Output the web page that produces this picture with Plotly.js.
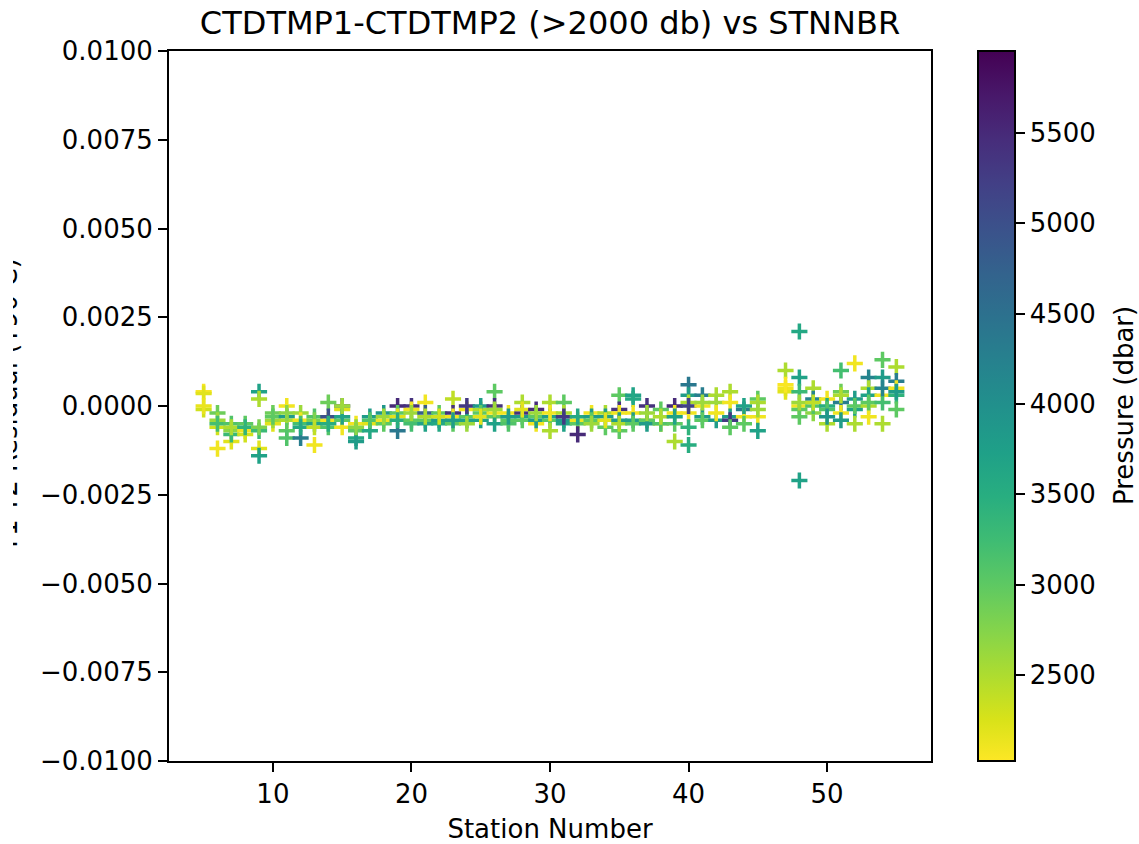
<!DOCTYPE html>
<html>
<head>
<meta charset="utf-8">
<script src="https://cdn.plot.ly/plotly-3.0.1.min.js"></script>
<style>html,body{margin:0;padding:0;background:#fff;}#chart{width:1139px;height:844px;}</style>
</head>
<body>
<div id="chart"></div>
<script>
// Station number of each bottle
const stnnbr = [
  5,5,5,5,
  6,6,6,6,6,
  7,7,7,7,7,
  8,8,8,8,
  9,9,9,9,9,9,
  10,10,10,10,
  11,11,11,11,11,11,
  12,12,12,12,12,
  13,13,13,13,13,
  14,14,14,14,14,
  15,15,15,15,15,15,
  16,16,16,16,16,
  17,17,17,17,
  18,18,18,18,
  19,19,19,19,19,
  20,20,20,20,20,
  21,21,21,21,21,
  22,22,22,22,
  23,23,23,23,23,
  24,24,24,24,24,
  25,25,25,25,25,
  26,26,26,26,26,26,
  27,27,27,27,
  28,28,28,28,28,
  29,29,29,29,29,
  30,30,30,30,30,
  31,31,31,31,31,
  32,32,32,32,
  33,33,33,33,
  34,34,34,34,
  35,35,35,35,35,35,
  36,36,36,36,36,
  37,37,37,37,37,
  38,38,38,38,
  39,39,39,39,39,
  40,40,40,40,40,40,40,
  41,41,41,41,41,
  42,42,42,42,
  43,43,43,43,43,
  44,44,44,44,
  45,45,45,45,45,
  47,47,47,47,
  48,48,48,48,48,48,48,48,
  49,49,49,49,49,
  50,50,50,50,50,
  51,51,51,51,51,51,
  52,52,52,52,52,
  53,53,53,53,53,53,
  54,54,54,54,54,54,
  55,55,55,55,55,55
];
// CTDTMP1 - CTDTMP2 residual (T90 C)
const residual = [
  0.0004,0.00035,-0.0001,0.0,
  -0.0002,-0.0004,-0.0006,-0.0012,-0.0005,
  -0.0005,-0.0007,-0.001,-0.0008,-0.0006,
  -0.0005,-0.0007,-0.0008,-0.0006,
  0.0004,0.0002,-0.0007,-0.0006,-0.0012,-0.0014,
  -0.0002,-0.0005,-0.0004,-0.0003,
  0.0,-0.0003,-0.0004,-0.0007,-0.0009,-0.0002,
  -0.0002,-0.0004,-0.0009,-0.0005,-0.0006,
  -0.0003,-0.0005,-0.0011,-0.0004,-0.0006,
  0.0001,-0.0004,-0.0003,-0.0006,-0.0005,
  0.0,-0.0001,-0.0004,-0.0006,-0.0003,0.0,
  -0.0005,-0.0007,-0.0009,-0.001,-0.0006,
  -0.0003,-0.0005,-0.0007,-0.0004,
  -0.0002,-0.0004,-0.0005,-0.0003,
  0.0,-0.0002,-0.0003,-0.0007,-0.0004,
  0.0,-0.0001,-0.0004,-0.0005,-0.0002,
  0.0001,-0.0002,-0.0004,-0.0005,-0.0003,
  -0.0002,-0.0004,-0.0005,-0.0003,
  0.0002,-0.0002,-0.0003,-0.0005,-0.0004,
  -0.0001,-0.0003,-0.0004,0.0,-0.0005,
  -0.0001,0.0,-0.0002,-0.0004,-0.0003,
  0.0004,0.0,-0.0002,-0.0003,-0.0005,-0.0001,
  -0.0002,-0.0004,-0.0005,-0.0003,
  0.0001,-0.0002,-0.0003,-0.0004,-0.0001,
  -0.0001,-0.0005,-0.0003,-0.0004,-0.0002,
  0.0001,-0.0003,-0.0004,-0.0007,-0.0002,
  0.0001,-0.0002,-0.0004,-0.0005,-0.0003,
  -0.0004,-0.0005,-0.0008,-0.0003,
  -0.0002,-0.0003,-0.0004,-0.0005,
  -0.0002,-0.0003,-0.0006,-0.0004,
  0.0003,-0.0001,-0.0002,-0.0004,-0.0007,-0.0005,
  0.0003,0.0002,-0.0002,-0.0004,-0.0005,
  0.0,-0.0004,-0.0004,-0.0005,-0.0002,
  -0.0001,-0.0005,-0.0005,-0.0003,
  0.0,-0.0002,-0.0005,-0.001,-0.0003,
  0.0006,0.0003,0.0001,-0.0002,-0.0006,-0.0011,0.0,
  0.0003,0.0,-0.0003,-0.0004,0.0001,
  0.0003,0.0001,-0.0004,-0.0002,
  0.0004,0.0001,-0.0003,-0.0004,-0.0006,
  -0.0001,-0.0003,-0.0005,0.0,
  0.0002,0.0001,-0.0003,-0.0007,-0.0001,
  0.001,0.0005,0.0004,0.0006,
  0.0021,0.0008,0.0004,0.0,-0.0001,-0.0003,-0.0021,0.0001,
  0.0005,0.0002,-0.0002,0.0,0.0001,
  0.0002,0.0,-0.0005,-0.0001,-0.0003,
  0.001,0.0004,0.0001,-0.0002,-0.0004,0.0003,
  0.0012,0.0002,-0.0001,-0.0005,0.0,
  0.0008,0.0005,0.0003,0.0,-0.0003,0.0001,
  0.0013,0.0008,0.0003,0.0001,-0.0005,0.0005,
  0.0011,0.0007,0.0005,0.0003,-0.0001,0.0004
];
// Pressure of each bottle (dbar)
const pressure = [
  2050,2200,2300,2150,
  2900,2600,2300,2100,3200,
  3100,2700,2200,3300,2500,
  3000,2100,2300,3400,
  3700,2500,3300,2800,2200,3700,
  2900,2200,2600,3000,
  2100,3800,2500,3000,3100,2700,
  2600,2100,4300,3200,3600,
  3100,3700,2100,2800,2400,
  2900,2100,5000,3100,3500,
  5200,2200,3000,2100,3700,2600,
  2100,3000,3600,3800,2700,
  3800,2200,3600,3100,
  3900,2100,3000,2600,
  5500,3000,2200,4400,3500,
  5400,2100,3000,3200,2600,
  2100,4800,3000,3700,2500,
  3000,3800,3600,2300,
  2400,5400,2100,3000,3800,
  2100,3000,3700,5300,2600,
  2500,3800,3000,3700,2200,
  3000,5400,2100,3000,3700,2600,
  2100,3000,3100,3800,
  2500,5400,3800,3000,2200,
  5500,2100,3000,3800,2600,
  2500,3800,3000,2500,2100,
  3000,2500,3800,3700,5300,
  2100,3000,5500,3600,
  2100,3800,3000,2600,
  2500,3800,3000,2200,
  3000,5400,2100,3800,3000,2500,
  3700,3600,2100,3800,3000,
  5400,2100,3000,3800,2600,
  3000,2100,3100,2500,
  5500,2100,3000,2500,3700,
  4400,3800,2500,2100,3400,3500,5200,
  4300,2100,3800,3000,2600,
  2500,2600,3800,2100,
  2500,2100,3800,5300,3000,
  4300,2100,3000,3700,
  3000,2500,2100,3700,2600,
  2500,2100,2200,2050,
  3600,3700,3300,2100,3000,3000,3700,2600,
  2500,4200,2700,3100,2400,
  2100,3500,2500,3100,3900,
  3200,2900,4300,2100,3800,2500,
  2100,3800,3700,2500,3000,
  4200,2500,3700,2500,2100,3000,
  3000,3800,2100,3200,2500,4200,
  2500,4300,2100,3400,3000,3800
];
const yTicks = [-0.01,-0.0075,-0.005,-0.0025,0,0.0025,0.005,0.0075,0.01];
const xTicks = [10,20,30,40,50];
const cbTicks = [2500,3000,3500,4000,4500,5000,5500];

const W = 1139, H = 844;
const L = 169, R = 931, T = 51, B = 761;
const pw = R - L;
const cmin = 2024, cmax = 5954;
const FONT = 'DejaVu Sans, sans-serif';

const trace = {
  type: 'scatter', mode: 'markers',
  x: stnnbr, y: residual,
  marker: {
    symbol: 'cross-thin', size: 11.5,
    color: pressure, colorscale: 'Viridis', reversescale: true, cmin: cmin, cmax: cmax,
    line: {width: 3.5, color: pressure, colorscale: 'Viridis', reversescale: true, cmin: cmin, cmax: cmax},
    showscale: true,
    colorbar: {
      x: (978 - L) / pw, xanchor: 'left', xref: 'paper',
      y: 0.5, yanchor: 'middle', len: 1, lenmode: 'fraction',
      thickness: 37, thicknessmode: 'pixels',
      xpad: 0, ypad: 0,
      outlinewidth: 2, outlinecolor: '#000',
      ticks: 'outside', ticklen: 9, tickwidth: 2, tickcolor: '#000',
      tickvals: cbTicks, ticktext: cbTicks.map(String),
      tickfont: {family: FONT, size: 26, color: '#000'}
    }
  },
  hoverinfo: 'x+y'
};

const layout = {
  width: W, height: H,
  margin: {l: L, r: W - R, t: T, b: H - B, pad: 0},
  paper_bgcolor: '#fff', plot_bgcolor: '#fff',
  showlegend: false,
  font: {family: FONT, size: 26, color: '#000'},
  title: {text: 'CTDTMP1-CTDTMP2 (>2000 db) vs STNNBR', font: {family: FONT, size: 32, color: '#000'},
          x: 0.5, xref: 'paper', y: 1 - 23 / H, yref: 'container', yanchor: 'middle'},
  xaxis: {
    range: [2.5, 57.5], tickvals: xTicks, ticktext: xTicks.map(String),
    showgrid: false, zeroline: false,
    showline: true, linecolor: '#000', linewidth: 2, mirror: true,
    ticks: 'outside', ticklen: 9, tickwidth: 2, tickcolor: '#000',
    tickfont: {family: FONT, size: 26, color: '#000'},
    title: {text: 'Station Number', font: {family: FONT, size: 26, color: '#000'}, standoff: 12},
    automargin: false
  },
  yaxis: {
    range: [-0.01, 0.01], tickvals: yTicks, ticktext: yTicks.map(v => (v < 0 ? '\u2212' : '') + Math.abs(v).toFixed(4)),
    showgrid: false, zeroline: false,
    showline: true, linecolor: '#000', linewidth: 2, mirror: true,
    ticks: 'outside', ticklen: 9, tickwidth: 2, tickcolor: '#000',
    tickfont: {family: FONT, size: 26, color: '#000'},
    automargin: false
  },
  annotations: [
    {text: 'T1-T2 Residual (T90 C)', textangle: -90, showarrow: false,
     xref: 'paper', yref: 'paper', x: (25 - L) / pw, xanchor: 'right', y: 0.5, yanchor: 'middle',
     font: {family: FONT, size: 26, color: '#000'}},
    {text: 'x', showarrow: false, bgcolor: '#fff', borderpad: 0, borderwidth: 0, width: 13, height: 420,
     xref: 'paper', yref: 'paper', x: (0 - L) / pw, xanchor: 'left', y: 0.5, yanchor: 'middle',
     font: {family: FONT, size: 4, color: '#fff'}},
    {text: 'Pressure (dbar)', textangle: -90, showarrow: false,
     xref: 'paper', yref: 'paper', x: (1124 - L) / pw, xanchor: 'center', y: 0.5, yanchor: 'middle',
     font: {family: FONT, size: 26, color: '#000'}}
  ]
};

Plotly.newPlot('chart', [trace], layout, {displayModeBar: false, staticPlot: true});
</script>
</body>
</html>
